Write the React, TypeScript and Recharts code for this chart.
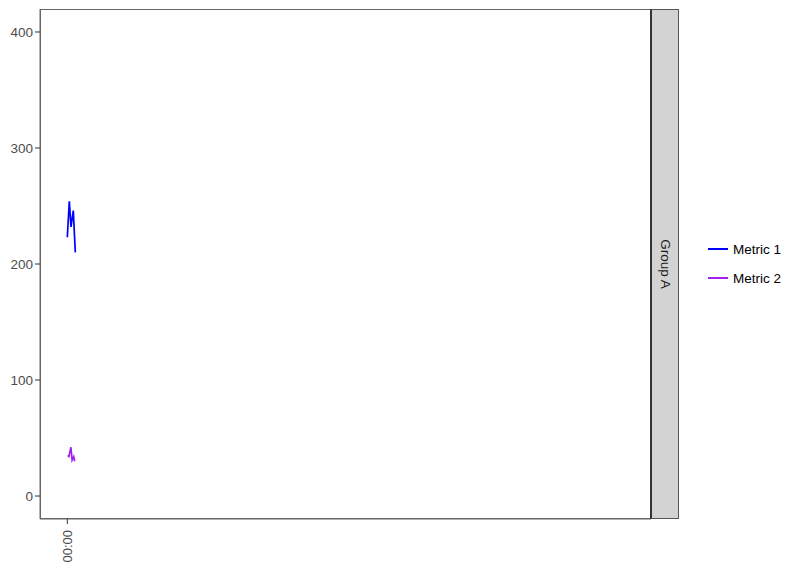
import React from 'react';
import { LineChart, Line, XAxis, YAxis } from 'recharts';

const metric1X = [0, 1, 1.85, 3, 4];
const metric1Y = [223, 254, 232, 246, 210];
const metric2X = [0.2, 0.8, 1.8, 2.4, 3.2, 3.7];
const metric2Y = [35, 34, 42, 31, 34, 30];
const yTicks = [0, 100, 200, 300, 400];
const xTicks = [0];
const xTickLabels = ['00:00'];
const seriesNames = ['Metric 1', 'Metric 2'];
const seriesColors = ['#0000FF', '#A020F0'];
const facetLabel = 'Group A';

const series1 = metric1X.map((x, i) => ({ x, y: metric1Y[i] }));
const series2 = metric2X.map((x, i) => ({ x, y: metric2Y[i] }));

const FONT = '"Liberation Sans", Arial, sans-serif';

const XTick = (props: any) => {
  const { x, y, payload } = props;
  const idx = xTicks.indexOf(payload.value);
  const label = idx >= 0 ? xTickLabels[idx] : '';
  return (
    <text
      x={0}
      y={0}
      transform={`translate(${x}, ${y + 4}) rotate(-90)`}
      textAnchor="end"
      dominantBaseline="central"
      fontSize={13}
      fontFamily={FONT}
      fill="#4d4d4d"
    >
      {label}
    </text>
  );
};

export default function App() {
  const W = 800;
  const H = 571;
  const left = 40;
  const top = 9;
  const right = 651;
  const bottom = 519;
  return (
    <div style={{ position: 'absolute', left: 0, top: 0, width: W, height: H, background: '#fff' }}>
      <LineChart
        width={W}
        height={H}
        margin={{ top: top, right: W - right, bottom: 0, left: 0 }}
      >
        <XAxis
          dataKey="x"
          type="number"
          domain={[-13.65, 291.85]}
          allowDataOverflow
          ticks={xTicks}
          tick={<XTick />}
          tickSize={5}
          height={H - bottom}
          axisLine={{ stroke: '#666666' }}
          tickLine={{ stroke: '#333333' }}
        />
        <YAxis
          type="number"
          domain={[-19.8, 419.8]}
          allowDataOverflow
          ticks={yTicks}
          width={left}
          tickSize={5}
          tickMargin={2}
          tick={{ fontSize: 13.5, fontFamily: FONT, fill: '#4d4d4d' }}
          axisLine={{ stroke: '#666666' }}
          tickLine={{ stroke: '#333333' }}
        />
        <Line
          data={series1}
          dataKey="y"
          name={seriesNames[0]}
          stroke={seriesColors[0]}
          strokeWidth={1.7}
          dot={false}
          activeDot={false}
          type="linear"
          isAnimationActive={false}
        />
        <Line
          data={series2}
          dataKey="y"
          name={seriesNames[1]}
          stroke={seriesColors[1]}
          strokeWidth={1.7}
          dot={false}
          activeDot={false}
          type="linear"
          isAnimationActive={false}
        />
      </LineChart>
      {/* panel border */}
      <div
        style={{
          position: 'absolute',
          left: left,
          top: top,
          width: right - left,
          height: bottom - top,
          boxSizing: 'border-box',
          border: '1px solid #666666',
          pointerEvents: 'none',
        }}
      />
      {/* facet strip */}
      <div
        style={{
          position: 'absolute',
          left: right - 1,
          top: top,
          width: 680 - right,
          height: bottom - top,
          boxSizing: 'border-box',
          background: '#d3d3d3',
          border: '1px solid #555555',
          borderLeft: '2px solid #333333',
        }}
      >
        <div
          style={{
            position: 'absolute',
            left: '50%',
            top: '50%',
            transform: 'translate(-50%, -50%) rotate(90deg)',
            whiteSpace: 'nowrap',
            fontFamily: FONT,
            fontSize: 13.5,
            color: '#1a1a1a',
          }}
        >
          {facetLabel}
        </div>
      </div>
      {/* legend */}
      {seriesNames.map((name, i) => (
        <div
          key={name}
          style={{
            position: 'absolute',
            left: 708,
            top: 249 + i * 29 - 10,
            height: 20,
            display: 'flex',
            alignItems: 'center',
            fontFamily: FONT,
            fontSize: 13.5,
            color: '#000',
            whiteSpace: 'nowrap',
          }}
        >
          <div style={{ width: 20, height: 2, background: seriesColors[i], marginRight: 5 }} />
          <span>{name}</span>
        </div>
      ))}
    </div>
  );
}
